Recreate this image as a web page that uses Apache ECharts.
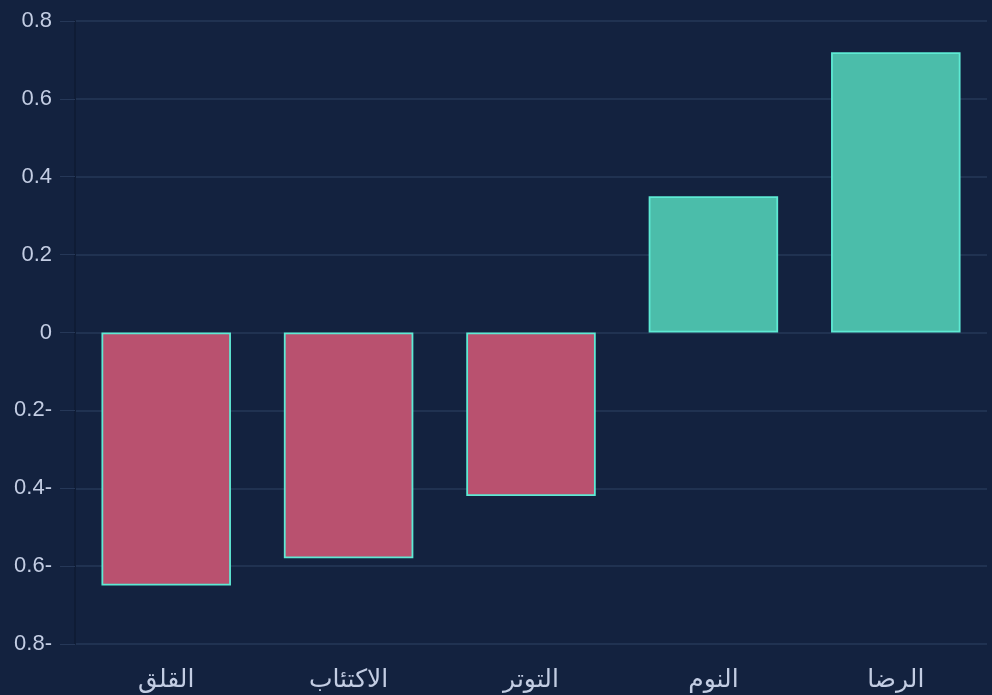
<!DOCTYPE html>
<html>
<head>
<meta charset="utf-8">
<script src="https://cdn.jsdelivr.net/npm/echarts@6/dist/echarts.min.js"></script>
<style>
  html, body { margin: 0; padding: 0; background: #13223f; }
  #chart { width: 992px; height: 695px; }
</style>
</head>
<body>
<div id="chart"></div>
<script>
const categories = ["القلق", "الاكتئاب", "التوتر", "النوم", "الرضا"];
const values = [-0.65, -0.58, -0.42, 0.35, 0.72];

const chart = echarts.init(document.getElementById("chart"));

// negative bars pink, positive teal, same teal outline on all
const seriesData = values.map(v => ({
  value: v,
  itemStyle: { color: v < 0 ? "#b9516f" : "#4bbdaa" }
}));

chart.setOption({
  backgroundColor: "#13223f",
  animation: false,
  grid: { left: 75, right: 5, top: 21, bottom: 51 },
  xAxis: {
    type: "category",
    data: categories,
    axisLine: { show: false },
    axisTick: { show: false },
    axisLabel: {
      color: "#c3cde3",
      fontSize: 25,
      fontFamily: "DejaVu Sans",
      margin: 24
    }
  },
  yAxis: {
    type: "value",
    min: -0.8,
    max: 0.8,
    interval: 0.2,
    axisLine: { show: true, lineStyle: { color: "#0f1c35", width: 2 } },
    axisTick: { show: true, length: 15, lineStyle: { color: "#263858" } },
    splitLine: { lineStyle: { color: "#263858", width: 1.5 } },
    axisLabel: {
      color: "#c3cde3",
      fontSize: 22,
      fontFamily: "Liberation Sans",
      margin: 23,
      formatter: v => {
        const r = Math.round(v * 10) / 10;
        return r < 0 ? Math.abs(r) + "-" : String(r);
      }
    }
  },
  series: [
    {
      type: "bar",
      data: seriesData,
      barWidth: "71%",
      itemStyle: { borderColor: "#5eead4", borderWidth: 1.8 }
    }
  ]
});
</script>
</body>
</html>
